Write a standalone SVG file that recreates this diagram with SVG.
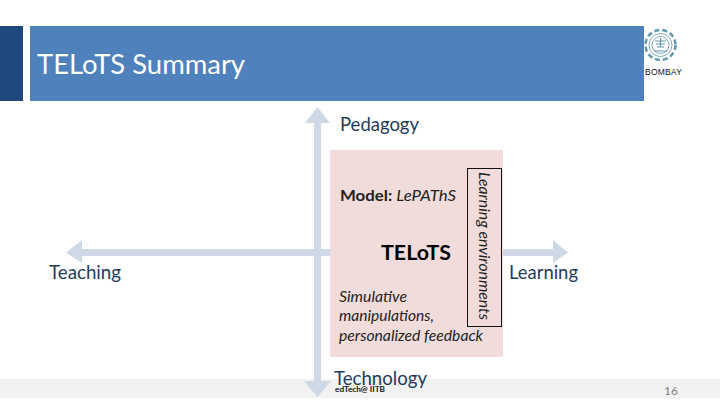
<svg xmlns="http://www.w3.org/2000/svg" width="720" height="405" viewBox="0 0 720 405">
<style>
text{font-family:Lato,"Open Sans","Liberation Sans",sans-serif}
.ax{fill:#1f3b5c;font-size:19px}
.it{font-style:italic;fill:#222;font-size:15px}
.arrow{fill:#cfd8e7}
.logo{fill:none;stroke:#5f97ad}
</style>
<rect width="720" height="405" fill="#fff"/>
<rect id="footer" x="0" y="379" width="720" height="19" fill="#f2f2f2"/>
<g id="header">
<rect x="0" y="26" width="23" height="75" fill="#1f497d"/>
<rect x="30" y="26" width="614" height="75" fill="#4f81bd"/>
<text x="37" y="74" font-size="27" fill="#fff" textLength="208" lengthAdjust="spacingAndGlyphs">TELoTS Summary</text>
</g>
<g id="logo">
<circle class="logo" cx="660.500" cy="45" r="15" stroke-width="2.500" stroke-dasharray="5 3"/>
<circle class="logo" cx="660.500" cy="45" r="11.500" stroke-width="0.800"/>
<circle class="logo" cx="660.500" cy="45" r="8.500" stroke-width="0.800"/>
<path class="logo" stroke-width="1.200" d="M655 41H666M656 44H665M657 47H664M654 51H667M660.500 38V47"/>
<text x="645" y="75" font-size="8.500" fill="#111" textLength="37" style="font-family:'Liberation Sans',sans-serif">BOMBAY</text>
</g>
<g id="connectors">
<path class="arrow" d="M314 123H305L317.500 107L330 123H321V249H553V240L568 252.500L553 263V256H321V381H331L317.500 397L304 381H314V256H82V263L66 252.500L82 240V249H314Z"/>
</g>
<g id="pedagogy"><text class="ax" x="340" y="131" textLength="79" lengthAdjust="spacingAndGlyphs">Pedagogy</text></g>
<g id="teaching"><text class="ax" x="49" y="279" textLength="72" lengthAdjust="spacingAndGlyphs">Teaching</text></g>
<g id="learning"><text class="ax" x="509" y="279" textLength="69" lengthAdjust="spacingAndGlyphs">Learning</text></g>
<g id="technology"><text class="ax" x="334" y="385" textLength="93" lengthAdjust="spacingAndGlyphs">Technology</text></g>
<g id="telots">
<rect x="330" y="150" width="173" height="207" fill="#f2dcdb"/>
<text x="340" y="201" font-size="15.500" font-weight="700" fill="#222" textLength="116" lengthAdjust="spacingAndGlyphs">Model: <tspan font-weight="400" font-style="italic">LePAThS</tspan></text>
<text x="381" y="260" font-size="20" font-weight="700" fill="#000" textLength="70" lengthAdjust="spacingAndGlyphs">TELoTS</text>
<text class="it" x="339" y="302" textLength="68" lengthAdjust="spacingAndGlyphs">Simulative</text>
<text class="it" x="339" y="321" textLength="95" lengthAdjust="spacingAndGlyphs">manipulations,</text>
<text class="it" x="339" y="341" textLength="144" lengthAdjust="spacingAndGlyphs">personalized feedback</text>
<rect x="467.500" y="168.500" width="34" height="158" fill="none" stroke="#111" stroke-width="1"/>
<text class="it" transform="translate(479 172) rotate(90)" textLength="148" lengthAdjust="spacingAndGlyphs">Learning environments</text>
</g>
<g id="credit"><text x="335" y="392" font-size="7.500" font-weight="700" fill="#111" textLength="50" lengthAdjust="spacingAndGlyphs">edTech@ IITB</text></g>
<g id="page"><text x="664" y="395" font-size="12" fill="#7f7f7f">16</text></g>
</svg>
